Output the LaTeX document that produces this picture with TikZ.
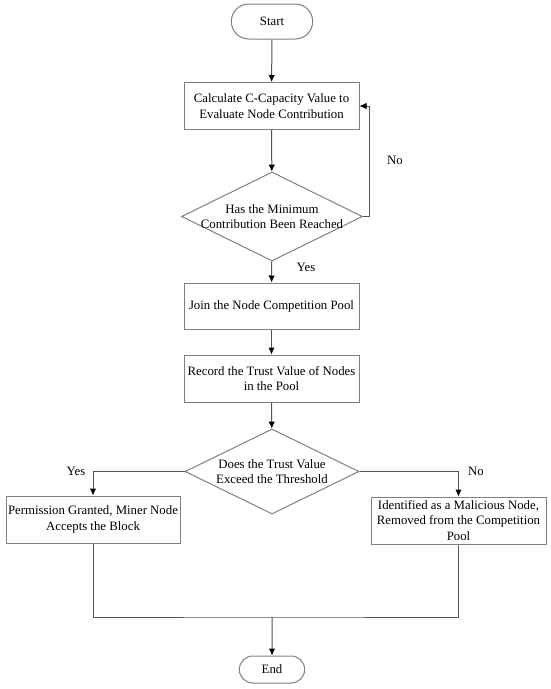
\documentclass[tikz,border=0pt]{standalone}
\usepackage{fontspec}
\setmainfont{Liberation Serif}
\usepackage{tikz}
\usetikzlibrary{shapes.geometric,shapes.misc}
\usetikzlibrary{arrows.meta}
\definecolor{boxgray}{RGB}{128,128,128}
\definecolor{linegray}{RGB}{85,85,85}

\begin{document}
\begin{tikzpicture}[x=1pt, y=-1pt, >={Latex[length=7pt,width=6.5pt,color=black]},
	every node/.style={font=\fontsize{12.8}{15.3}\selectfont},
	terminal/.style={rounded rectangle, draw=boxgray, line width=1pt, minimum width=88pt, minimum height=35pt},
	process/.style={rectangle, draw=boxgray, line width=1pt, minimum width=175pt, minimum height=47pt, align=center, inner sep=2pt},
	decision/.style={diamond, draw=boxgray, line width=1pt, minimum width=181pt, minimum height=89pt, inner sep=0pt},
	flow/.style={->, draw=linegray, line width=1pt},
	plain/.style={draw=linegray, line width=1pt}]
	%\draw[help lines] (0,0) grid (550,689);
	\useasboundingbox (0,0) rectangle (550,689);
	\node[terminal] (start) at (272,21.5) {Start};
	\node[process] (calc) at (271.5,106) {Calculate C-Capacity Value to\\Evaluate Node Contribution};
	\node[decision, label={[align=center]center:{Has the Minimum\\Contribution Been Reached}}] (reach) at (272,216.5) {};
	\node[process, minimum height=46pt] (join) at (271.5,306) {Join the Node Competition Pool};
	\node[process] (record) at (271.5,378.5) {Record the Trust Value of Nodes\\in the Pool};
	\node[decision, minimum width=174pt, minimum height=85pt, label={[align=center]center:{Does the Trust Value\\Exceed the Threshold}}] (trust) at (272,471.5) {};
	\node[process, minimum width=174pt] (grant) at (93,519.5) {Permission Granted, Miner Node\\Accepts the Block};
	\node[process, inner ysep=1pt] (malice) at (458.5,520.5) {Identified as a Malicious Node,\\Removed from the Competition\\Pool};
	\node[terminal, minimum width=72pt, minimum height=27pt] (end) at (272,669.5) {End};
	\coordinate (loop) at (369,216.5);
	\coordinate (merge) at (272,617);
	% labels
	\node (no1) at (395,160) {No};
	\node (yes1) at (306,267) {Yes};
	\node (yes2) at (76,471.5) {Yes};
	\node (no2) at (476,471.5) {No};
	% connectors
	\draw[flow] (start) -- (calc);
	\draw[flow] (calc) -- (reach);
	\draw[flow] (reach.east) -- (loop) |- (calc.east);
	\draw[flow] (reach) -- (join);
	\draw[flow] (join) -- (record);
	\draw[flow] (record) -- (trust);
	\draw[flow] (trust.west) -| (grant.north);
	\draw[flow] (trust.east) -| (malice.north);
	\draw[plain] (grant.south) |- (merge) -| (malice.south);
	\draw[flow] (merge) -- (end);
\end{tikzpicture}
\end{document}
